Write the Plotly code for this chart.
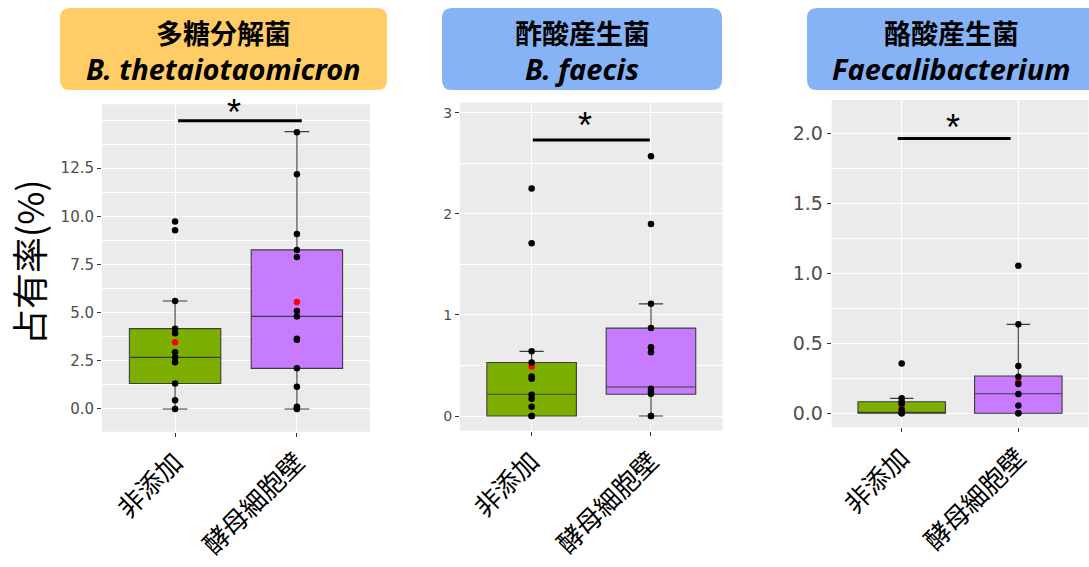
import plotly.graph_objects as go

# ---- data ----
groups = ["非添加", "酵母細胞壁"]
panel_titles_jp = ["多糖分解菌", "酢酸産生菌", "酪酸産生菌"]
panel_titles_sp = ["B. thetaiotaomicron", "B. faecis", "Faecalibacterium"]

# individual samples (%)
bt_ctrl = [0, 0.45, 1.32, 2.42, 2.67, 2.94, 3.93, 4.17, 5.61, 9.28, 9.73]
bt_yeast = [0, 0.03, 0.12, 1.16, 2.11, 3.60, 3.64, 4.80, 5.09, 7.89, 8.26, 9.09, 12.19, 14.37]
bf_ctrl = [0, 0, 0.092, 0.17, 0.21, 0.37, 0.39, 0.53, 0.64, 1.71, 2.25]
bf_yeast = [0, 0, 0.22, 0.24, 0.27, 0.63, 0.68, 0.87, 1.11, 1.90, 2.57]
fb_ctrl = [0, 0, 0.024, 0.071, 0.083, 0.107, 0.357]
fb_yeast = [0, 0, 0.055, 0.138, 0.21, 0.262, 0.338, 0.636, 1.055]

# box statistics per group: lower whisker, q1, median, q3, upper whisker
bt_box = [[0, 1.32, 2.68, 4.17, 5.61], [0, 2.11, 4.81, 8.26, 14.40]]
bf_box = [[0, 0, 0.215, 0.53, 0.64], [0, 0.215, 0.287, 0.87, 1.11]]
fb_box = [[0, 0, 0.005, 0.083, 0.107], [0, 0, 0.14, 0.267, 0.636]]

# group means
bt_mean = [3.46, 5.56]
bf_mean = [0.49, 0.677]
fb_mean = [0.052, 0.226]

# significance bars: height, left end, right end
sig_y = [14.96, 2.73, 1.964]
sig_x0 = [1.025, 1.01, 0.966]
sig_x1 = [2.04, 1.99, 1.934]
star_x = [1.48, 1.447, 1.437]
star_y = [15.8, 2.95, 2.10]

# axis ticks
yticks = [[0, 2.5, 5, 7.5, 10, 12.5], [0, 1, 2, 3], [0, 0.5, 1, 1.5, 2]]
yticktext = [["0.0", "2.5", "5.0", "7.5", "10.0", "12.5"], ["0", "1", "2", "3"],
             ["0.0", "0.5", "1.0", "1.5", "2.0"]]
yminor = [[1.25, 3.75, 6.25, 8.75, 11.25, 13.75, 15], [0.5, 1.5, 2.5], [0.25, 0.75, 1.25, 1.75]]
yranges = [[-1.18, 15.82], [-0.145, 3.10], [-0.10, 2.24]]

points = [(bt_ctrl, bt_yeast), (bf_ctrl, bf_yeast), (fb_ctrl, fb_yeast)]
boxes = [bt_box, bf_box, fb_box]
means = [bt_mean, bf_mean, fb_mean]

# ---- layout geometry (pixels) ----
W, H = 1089, 567
px = lambda x: x / W
py = lambda y: 1 - y / H
panel_px = [(102, 370, 104.3, 431.7), (460, 722.6, 102.7, 430.7), (831.7, 1088.3, 100, 427.3)]
tick_font_size = [15, 14, 19]
title_boxes = [(60, 387, 8, 90, "#FFCC66"), (442, 722, 8, 90, "#85B3F5"), (807, 1110, 8, 90, "#85B3F5")]
title_cx = [223.5, 582, 951]

fill_colors = ["#7CAE00", "#C77CFF"]
xpos = [1, 2]

fig = go.Figure()
layout = dict(width=W, height=H, margin=dict(l=0, r=0, t=0, b=0),
              paper_bgcolor="white", plot_bgcolor="#EBEBEB", showlegend=False)
shapes, annotations = [], []

for i in range(3):
    xa = "x" if i == 0 else f"x{i+1}"
    ya = "y" if i == 0 else f"y{i+1}"
    for g in range(2):
        lo, q1, med, q3, hi = boxes[i][g]
        fig.add_trace(go.Box(
            x=[xpos[g]], q1=[q1], median=[med], q3=[q3], lowerfence=[lo], upperfence=[hi],
            width=0.75, whiskerwidth=0.27, fillcolor=fill_colors[g],
            line=dict(color="#3C3C3C", width=1.1), boxpoints=False, hoverinfo="skip",
            xaxis=xa, yaxis=ya))
    # group means
    fig.add_trace(go.Scatter(x=xpos, y=means[i], mode="markers",
                             marker=dict(color="red", size=6.5), xaxis=xa, yaxis=ya))
    # individual samples
    for g in range(2):
        vals = points[i][g]
        fig.add_trace(go.Scatter(x=[xpos[g]] * len(vals), y=vals, mode="markers",
                                 marker=dict(color="black", size=6.5), xaxis=xa, yaxis=ya))
    # significance bar and star
    shapes.append(dict(type="line", xref=xa, yref=ya, x0=sig_x0[i], x1=sig_x1[i],
                       y0=sig_y[i], y1=sig_y[i], line=dict(color="black", width=3)))
    annotations.append(dict(xref=xa, yref=ya, x=star_x[i], y=star_y[i], text="*",
                            showarrow=False, yanchor="middle", yshift=-8,
                            font=dict(family="Liberation Sans", size=36, color="black")))

    x0, x1, y0, y1 = panel_px[i]
    layout["xaxis" if i == 0 else f"xaxis{i+1}"] = dict(
        domain=[px(x0), px(x1)], range=[0.4, 2.6], anchor=ya,
        tickvals=xpos, ticktext=groups, tickangle=-45,
        tickfont=dict(family="Noto Sans CJK JP", size=26, color="black"),
        ticks="outside", ticklen=4, tickcolor="#333333",
        showgrid=True, gridcolor="white", gridwidth=1.2, zeroline=False, showline=False)
    layout["yaxis" if i == 0 else f"yaxis{i+1}"] = dict(
        domain=[py(y1), py(y0)], range=yranges[i], anchor=xa,
        tickvals=yticks[i], ticktext=yticktext[i],
        tickfont=dict(family="DejaVu Sans", size=tick_font_size[i], color="#4D4D4D"),
        ticks="outside", ticklen=4, tickcolor="#333333",
        showgrid=True, gridcolor="white", gridwidth=1.2, zeroline=False, showline=False,
        minor=dict(tickvals=yminor[i], showgrid=True, gridcolor="white", gridwidth=0.8, ticks=""))

    # header box with rounded corners
    bx0, bx1, by0, by1, col = title_boxes[i]
    r = 10
    path = (f"M {px(bx0 + r)},{py(by0)} L {px(bx1 - r)},{py(by0)} "
            f"Q {px(bx1)},{py(by0)} {px(bx1)},{py(by0 + r)} L {px(bx1)},{py(by1 - r)} "
            f"Q {px(bx1)},{py(by1)} {px(bx1 - r)},{py(by1)} L {px(bx0 + r)},{py(by1)} "
            f"Q {px(bx0)},{py(by1)} {px(bx0)},{py(by1 - r)} L {px(bx0)},{py(by0 + r)} "
            f"Q {px(bx0)},{py(by0)} {px(bx0 + r)},{py(by0)} Z")
    shapes.append(dict(type="path", xref="paper", yref="paper", path=path,
                       fillcolor=col, line=dict(width=0), layer="below"))
    annotations.append(dict(xref="paper", yref="paper", x=px(title_cx[i]), y=py(33),
                            text=f"<b>{panel_titles_jp[i]}</b>", showarrow=False,
                            xanchor="center", yanchor="middle",
                            font=dict(family="Noto Sans CJK JP", size=27, color="black")))
    annotations.append(dict(xref="paper", yref="paper", x=px(title_cx[i]), y=py(68),
                            text=f"<b><i>{panel_titles_sp[i]}</i></b>", showarrow=False,
                            xanchor="center", yanchor="middle",
                            font=dict(family="Noto Sans", size=29, color="black")))

# shared y-axis title
annotations.append(dict(xref="paper", yref="paper", x=px(28), y=py(262), text="占有率(%)",
                        textangle=-90, showarrow=False, xanchor="center", yanchor="middle",
                        font=dict(family="Noto Sans CJK JP", size=36, color="black")))

layout["shapes"] = shapes
layout["annotations"] = annotations
fig.update_layout(**layout)
fig.write_html("out.html")
